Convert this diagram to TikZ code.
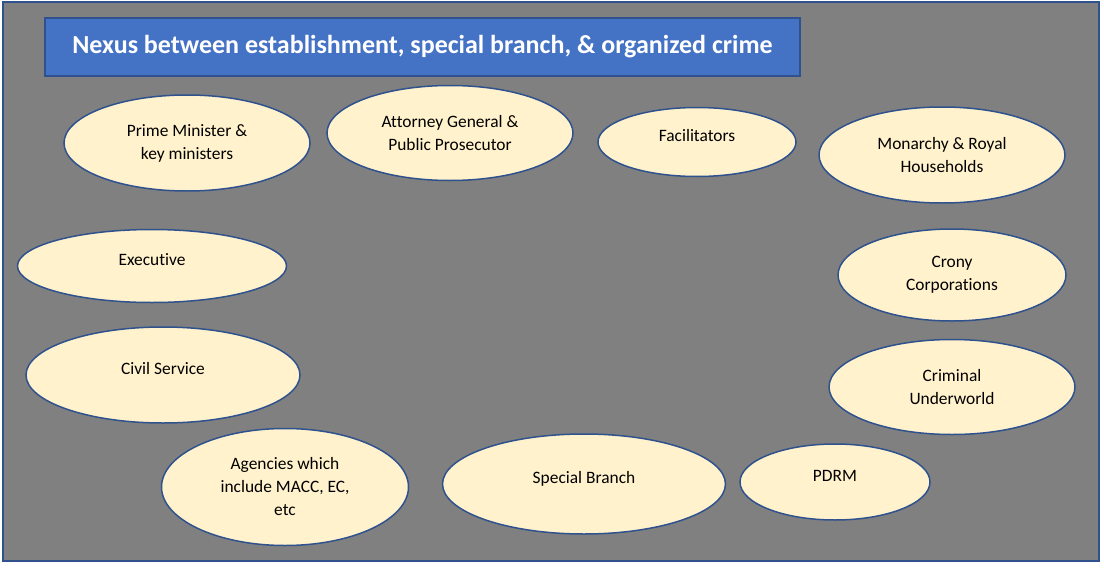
\documentclass[tikz,border=0pt]{standalone}
\usepackage{fontspec}
\setmainfont{Carlito}[Ligatures=NoCommon]
\usepackage{tikz}
\usetikzlibrary{positioning,shapes.geometric}

\definecolor{panelgray}{HTML}{808080}
\definecolor{titleblue}{HTML}{4472C4}
\definecolor{edgeblue}{HTML}{2F528F}
\definecolor{pale}{HTML}{FFF2CC}

\begin{document}
\begin{tikzpicture}[
        x=1pt, y=-1pt,
        every node/.style={font=\fontsize{17.4}{23}\selectfont},
        actor/.style={ellipse, draw=edgeblue, fill=pale, line width=1.5pt,
                      align=center, inner sep=0pt, text=black},
        oneline/.style={text depth=13pt},
        banner/.style={draw=edgeblue, fill=titleblue, line width=1.5pt,
                       text=white, minimum width=755pt, minimum height=58pt,
                       font=\fontsize{26}{30}\selectfont\bfseries}
    ]
        \useasboundingbox (0,0) rectangle (1104,570);
        \fill[panelgray, draw=edgeblue, line width=2pt] (3,2) rectangle (1099,561);

        \node[banner] (title) at (422.5,47) {Nexus between establishment, special branch, \& organized crime};

        \node[actor, minimum width=246pt, minimum height=96pt]  (pm)      at (187,143) {Prime Minister \&\\key ministers};
        \node[actor, minimum width=246pt, minimum height=95pt]  (ag)      at (450,133) {Attorney General \&\\Public Prosecutor};
        \node[actor, oneline, minimum width=198pt, minimum height=69pt] (facil) at (697,142) {Facilitators};
        \node[actor, minimum width=246pt, minimum height=96pt]  (monarchy) at (942,155) {Monarchy \& Royal\\Households};
        \node[actor, oneline, minimum width=269pt, minimum height=73pt] (exec) at (152,266) {Executive};
        \node[actor, minimum width=228pt, minimum height=92pt]  (crony)   at (952,275) {Crony\\Corporations};
        \node[actor, oneline, minimum width=274pt, minimum height=96pt] (civil) at (163,375) {Civil Service};
        \node[actor, minimum width=246pt, minimum height=95pt]  (crime)   at (952,387) {Criminal\\Underworld};
        \node[actor, minimum width=247pt, minimum height=117pt] (agency)  at (285,487) {Agencies which\\include MACC, EC,\\etc};
        \node[actor, oneline, minimum width=283pt, minimum height=100pt] (sb) at (584,484) {Special Branch};
        \node[actor, oneline, minimum width=190pt, minimum height=76pt] (pdrm) at (835,482) {PDRM};
    \end{tikzpicture}
\end{document}
